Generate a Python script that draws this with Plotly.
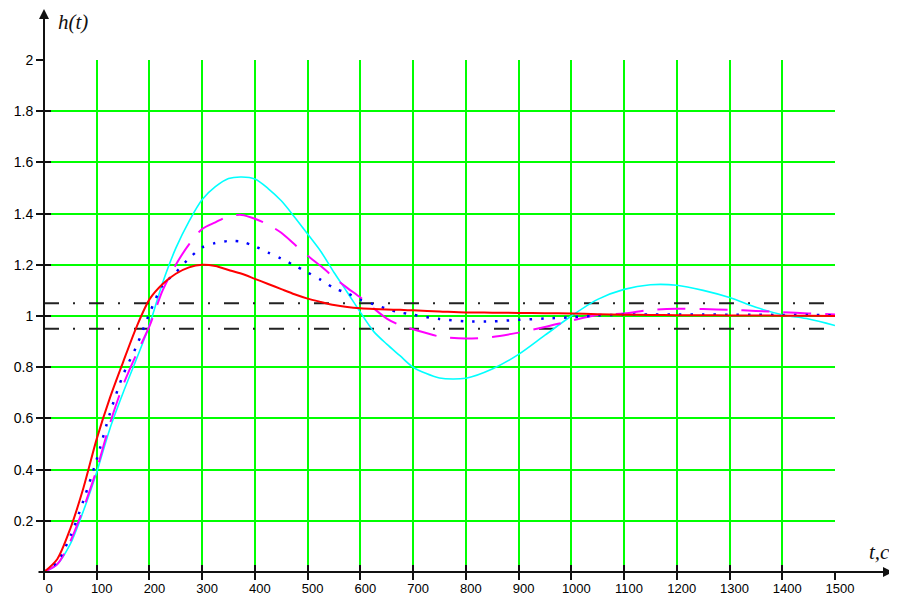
import plotly.graph_objects as go

# ---- data ----
t = [0, 25, 50, 75, 100, 125, 150, 175, 200, 225, 250, 275, 300, 325, 350, 375,
     400, 425, 450, 475, 500, 525, 550, 575, 600, 625, 650, 675, 700,
     750, 800, 850, 900, 950, 1000, 1050, 1100, 1150, 1200, 1250, 1300, 1350,
     1400, 1450, 1500]

h_red = [0, 0.05, 0.17, 0.33, 0.52, 0.68, 0.82, 0.955, 1.065, 1.125, 1.165, 1.19,
         1.2, 1.195, 1.18, 1.165, 1.145, 1.125, 1.105, 1.085, 1.068, 1.055, 1.043,
         1.035, 1.03, 1.027, 1.025, 1.024, 1.022,
         1.018, 1.014, 1.013, 1.012, 1.011, 1.01, 1.007, 1.005, 1.004, 1.003,
         1.003, 1.002, 1.002, 1.001, 1.001, 1.0]

h_blue = [0, 0.04, 0.14, 0.28, 0.44, 0.62, 0.77, 0.88, 1.01, 1.12, 1.17, 1.225,
          1.268, 1.285, 1.293, 1.29, 1.272, 1.248, 1.224, 1.197, 1.17, 1.141,
          1.109, 1.089, 1.063, 1.046, 1.028, 1.014, 1.005,
          0.988, 0.979, 0.979, 0.985, 0.99, 0.995, 1.002, 1.005, 1.006, 1.006,
          1.006, 1.005, 1.005, 1.004, 1.004, 1.003]

h_magenta = [0, 0.03, 0.12, 0.25, 0.40, 0.58, 0.73, 0.85, 0.96, 1.10, 1.20, 1.28,
             1.34, 1.366, 1.39, 1.395, 1.38, 1.357, 1.325, 1.28, 1.235, 1.195,
             1.15, 1.11, 1.072, 1.03, 0.99, 0.964, 0.948,
             0.92, 0.912, 0.918, 0.935, 0.957, 0.982, 1.004, 1.01, 1.024, 1.028,
             1.027, 1.024, 1.02, 1.015, 1.01, 1.006]

h_cyan = [0, 0.03, 0.11, 0.24, 0.39, 0.56, 0.70, 0.83, 0.965, 1.13, 1.265, 1.37,
          1.455, 1.505, 1.537, 1.543, 1.535, 1.498, 1.45, 1.387, 1.32, 1.252,
          1.17, 1.093, 1.014, 0.94, 0.89, 0.845, 0.80,
          0.758, 0.757, 0.793, 0.85, 0.925, 1.0, 1.065, 1.104, 1.122, 1.12,
          1.10, 1.072, 1.034, 1.005, 0.988, 0.963]

band_t = [0, 1500]
band_upper = [1.05, 1.05]
band_lower = [0.95, 0.95]

x_ticks = list(range(0, 1501, 100))
x_tick_text = [str(v) for v in x_ticks]
y_ticks = [0.2, 0.4, 0.6, 0.8, 1.0, 1.2, 1.4, 1.6, 1.8, 2.0]
y_tick_text = ["0.2", "0.4", "0.6", "0.8", "1", "1.2", "1.4", "1.6", "1.8", "2"]

# ---- figure ----
W, H = 889, 587          # page has an 8px body margin
L, T = 36, 52
PW, PH = 791, 512        # plot area size in px

fig = go.Figure()

dashdot = "15px,14px,2px,14px"
for yy in (band_upper, band_lower):
    fig.add_trace(go.Scatter(x=band_t, y=yy, mode="lines",
                             line=dict(color="#222222", width=2, dash=dashdot),
                             showlegend=False, hoverinfo="skip"))

fig.add_trace(go.Scatter(x=t, y=h_cyan, mode="lines",
                         line=dict(color="#00ffff", width=1.6, shape="spline", smoothing=0.8),
                         showlegend=False))
fig.add_trace(go.Scatter(x=t, y=h_magenta, mode="lines",
                         line=dict(color="#ff00ff", width=2, dash="28px,14px",
                                   shape="spline", smoothing=0.8),
                         showlegend=False))
fig.add_trace(go.Scatter(x=t, y=h_blue, mode="lines",
                         line=dict(color="#0000ff", width=2.5, dash="2.5px,9px",
                                   shape="spline", smoothing=0.8),
                         showlegend=False))
fig.add_trace(go.Scatter(x=t, y=h_red, mode="lines",
                         line=dict(color="#ff0000", width=2, shape="spline", smoothing=0.8),
                         showlegend=False))
# dummy trace to create overlay axes for inside tick halves
fig.add_trace(go.Scatter(x=[None], y=[None], xaxis="x2", yaxis="y2",
                         showlegend=False, hoverinfo="skip"))

y_tick_font = dict(family="Liberation Sans", size=14, color="#000000")
x_tick_font = dict(family="Liberation Sans", size=13, color="#000000")
fig.update_layout(
    width=W, height=H, autosize=False,
    margin=dict(l=L, r=W - L - PW, t=T, b=H - T - PH, pad=0, autoexpand=False),
    paper_bgcolor="white", plot_bgcolor="white",
    xaxis=dict(range=[0, 1500], tickvals=x_ticks, ticktext=x_tick_text,
               showgrid=True, gridcolor="#00ff00", gridwidth=2,
               zeroline=False, showline=False, automargin=False,
               ticks="outside", ticklen=7, tickwidth=2, tickcolor="#111111",
               tickfont=x_tick_font, ticklabelshift=5, ticklabelstandoff=-3),
    yaxis=dict(range=[0, 2], tickvals=y_ticks, ticktext=y_tick_text,
               showgrid=True, gridcolor="#00ff00", gridwidth=2,
               zeroline=False, showline=False, automargin=False,
               ticks="outside", ticklen=7, tickwidth=2, tickcolor="#111111",
               tickfont=y_tick_font),
    xaxis2=dict(range=[0, 1500], tickvals=x_ticks, overlaying="x", anchor="y2",
                side="bottom", showgrid=False, zeroline=False, showline=False,
                automargin=False,
                ticks="inside", ticklen=7, tickwidth=2, tickcolor="#111111",
                showticklabels=False),
    yaxis2=dict(range=[0, 2], tickvals=y_ticks, overlaying="y", anchor="x2",
                side="left", showgrid=False, zeroline=False, showline=False,
                automargin=False,
                ticks="inside", ticklen=7, tickwidth=2, tickcolor="#111111",
                showticklabels=False),
    annotations=[
        # y axis with arrow
        dict(x=0, y=(572 - 8) / PH, xref="paper", yref="paper", text="",
             showarrow=True, ax=0, ay=570, axref="pixel", ayref="pixel",
             arrowhead=2, arrowsize=1, arrowwidth=2, arrowcolor="#111111", standoff=0),
        # x axis with arrow
        dict(x=(893 - 44) / PW, y=0, xref="paper", yref="paper", text="",
             showarrow=True, ax=-856, ay=0, axref="pixel", ayref="pixel",
             arrowhead=2, arrowsize=1, arrowwidth=2, arrowcolor="#111111", standoff=0),
        dict(x=(73 - 44) / PW, y=(572 - 22) / PH, xref="paper", yref="paper",
             xanchor="center", yanchor="middle",
             text="<i>h(t)</i>", showarrow=False,
             font=dict(family="Liberation Serif", size=21, color="#111111")),
        dict(x=(879 - 44) / PW, y=(572 - 552) / PH, xref="paper", yref="paper",
             xanchor="center", yanchor="middle",
             text="<i>t,c</i>", showarrow=False,
             font=dict(family="Liberation Serif", size=21, color="#111111")),
    ],
)

fig.write_html("out.html")
